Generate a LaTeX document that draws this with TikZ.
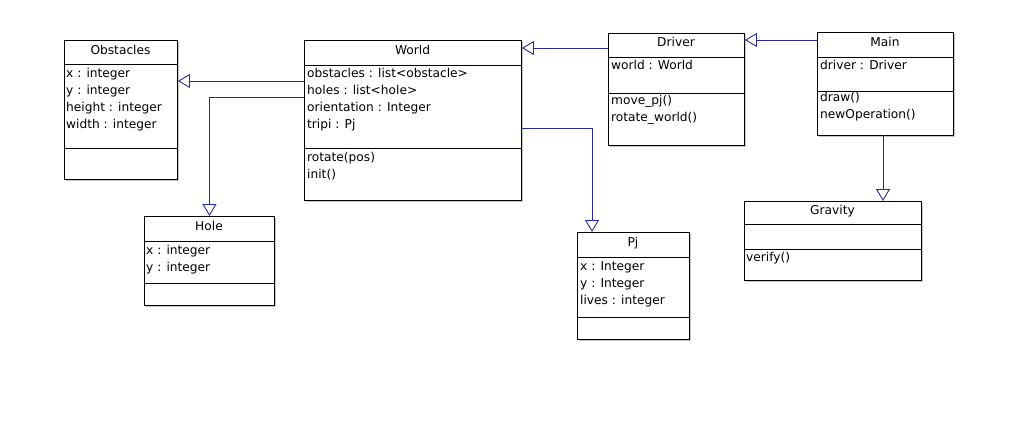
\documentclass[tikz,border=0pt]{standalone}
\usepackage{fontspec}
\setmainfont{DejaVu Sans}
\usetikzlibrary{arrows.meta,shadows}
\definecolor{umlblue}{RGB}{40,40,160}
\newcommand\classfont{\fontsize{12.2}{17}\selectfont}

\begin{document}
\begin{tikzpicture}[x=1pt,y=-1pt,
  classbox/.style={draw,line width=0.9pt,fill=white,anchor=north west,inner sep=0pt,
    drop shadow={shadow xshift=1.6pt,shadow yshift=-1.6pt,fill=black!22,opacity=1}},
  classtitle/.style={anchor=base,inner sep=0pt,font=\classfont},
  members/.style={anchor=north west,align=left,inner sep=0pt,font=\classfont},
  inherit/.style={draw=umlblue,line width=0.9pt,
    -{Triangle[open,length=12pt,width=14pt]}}]
\useasboundingbox (0,0) rectangle (1023,433);
%% classes
\node[classbox,minimum width=113pt,minimum height=139pt] (obstacles) at (64,40) {};
\draw[line width=0.9pt] (64,64) -- (177,64) (64,148) -- (177,148);
\node[classtitle] (obstacles-name) at (120.5,54.5) {Obstacles};
\node[members] (obstacles-attr) at (66,65.5) {\strut x : integer\\\strut y : integer\\\strut height : integer\\\strut width : integer};

\node[classbox,minimum width=217pt,minimum height=160pt] (world) at (304,40) {};
\draw[line width=0.9pt] (304,65) -- (521,65) (304,148) -- (521,148);
\node[classtitle] (world-name) at (412.5,55) {World};
\node[members] (world-attr) at (307,65.5) {\strut obstacles : list<obstacle>\\\strut holes : list<hole>\\\strut orientation : Integer\\\strut tripi : Pj};
\node[members] (world-ops) at (307,149.5) {\strut rotate(pos)\\\strut init()};

\node[classbox,minimum width=136pt,minimum height=112pt] (driver) at (608,33) {};
\draw[line width=0.9pt] (608,57) -- (744,57) (608,93) -- (744,93);
\node[classtitle] (driver-name) at (676,46.5) {Driver};
\node[members] (driver-attr) at (611,57.5) {\strut world : World};
\node[members] (driver-ops) at (611,92.5) {\strut move\_pj()\\\strut rotate\_world()};

\node[classbox,minimum width=136pt,minimum height=103pt] (main) at (817,32) {};
\draw[line width=0.9pt] (817,57) -- (953,57) (817,91) -- (953,91);
\node[classtitle] (main-name) at (885,46.5) {Main};
\node[members] (main-attr) at (820,57.5) {\strut driver : Driver};
\node[members] (main-ops) at (820,89.5) {\strut draw()\\\strut newOperation()};

\node[classbox,minimum width=130pt,minimum height=89pt] (hole) at (144,216) {};
\draw[line width=0.9pt] (144,241) -- (274,241) (144,283) -- (274,283);
\node[classtitle] (hole-name) at (209,230.5) {Hole};
\node[members] (hole-attr) at (146,242) {\strut x : integer\\\strut y : integer};

\node[classbox,minimum width=112pt,minimum height=107pt] (pj) at (577,232) {};
\draw[line width=0.9pt] (577,257) -- (689,257) (577,317) -- (689,317);
\node[classtitle] (pj-name) at (633,246.5) {Pj};
\node[members] (pj-attr) at (580,258) {\strut x : Integer\\\strut y : Integer\\\strut lives : integer};

\node[classbox,minimum width=177pt,minimum height=79pt] (gravity) at (744,201) {};
\draw[line width=0.9pt] (744,224) -- (921,224) (744,249) -- (921,249);
\node[classtitle] (gravity-name) at (832.5,214) {Gravity};
\node[members] (gravity-ops) at (746,249) {\strut verify()};

%% generalisations
\coordinate (w-obst) at (304,81);
\coordinate (w-hole) at (304,97);
\coordinate (w-pj) at (521,128);
\coordinate (d-world) at (608,48);
\coordinate (m-driver) at (817,40);
\coordinate (m-gravity) at (883,135);
\draw[inherit] (w-obst) -- (w-obst -| obstacles.east);
\draw[inherit] (w-hole) -| (hole.north);
\draw[inherit] (w-pj) -| ([xshift=15pt]pj.north west);
\draw[inherit] (d-world) -- (d-world -| world.east);
\draw[inherit] (m-driver) -- (m-driver -| driver.east);
\draw[inherit] (m-gravity) -- (m-gravity |- gravity.north);
\end{tikzpicture}
\end{document}
